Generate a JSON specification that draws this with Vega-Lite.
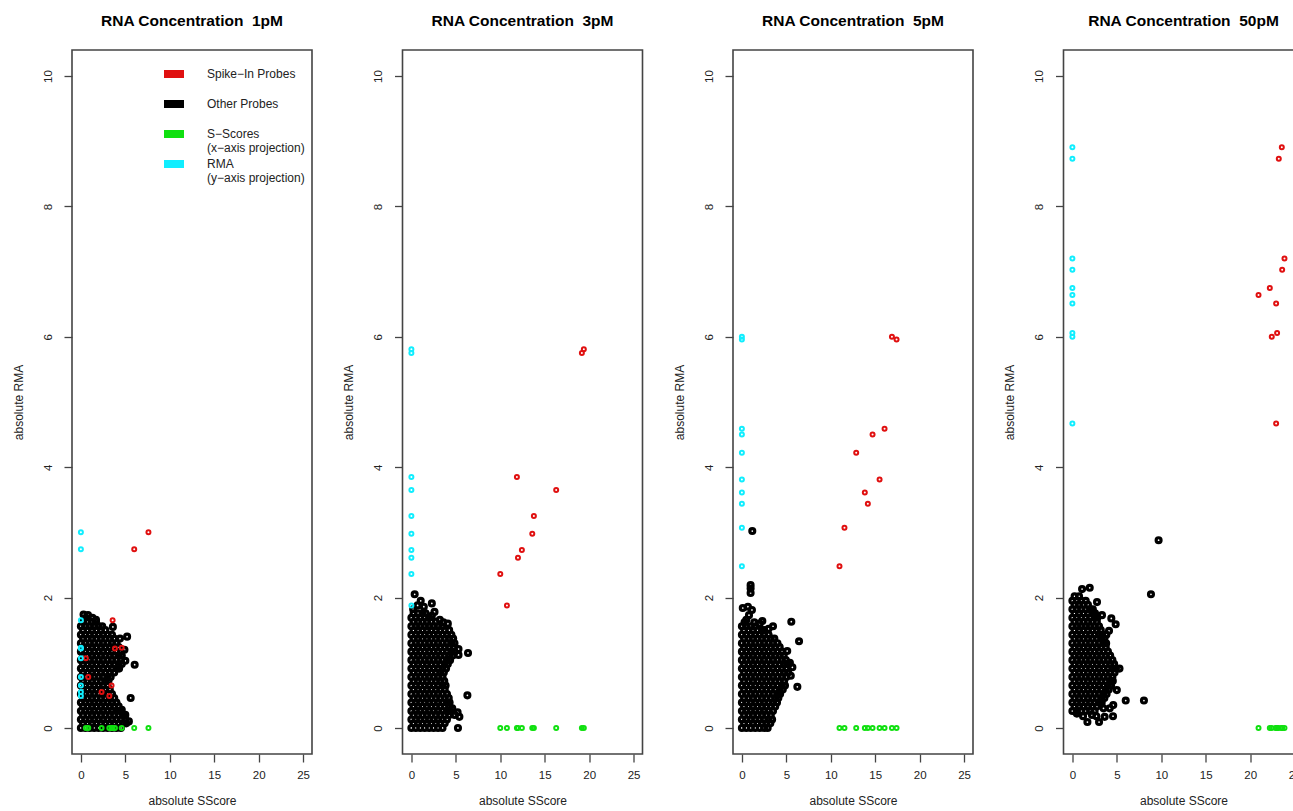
{
"$schema": "https://vega.github.io/schema/vega-lite/v6.json",
"background": "white",
"padding": {"left": 11, "top": 12, "right": 0, "bottom": 0},
"bounds": "flush",
"spacing": 90.5,
"datasets": {
"o1": [
{"x":0,"y":0},{"x":0.5,"y":0},{"x":1,"y":0},{"x":1.5,"y":0},{"x":2,"y":0},{"x":2.5,"y":0},{"x":3,"y":0},{"x":3.5,"y":0},{"x":4,"y":0},{"x":4.5,"y":0},
{"x":0.25,"y":0.07},{"x":0.75,"y":0.07},{"x":1.25,"y":0.07},{"x":1.75,"y":0.07},{"x":2.25,"y":0.07},{"x":2.75,"y":0.07},{"x":3.25,"y":0.07},{"x":3.75,"y":0.07},{"x":4.25,"y":0.07},{"x":4.75,"y":0.07},{"x":5.1,"y":0.07},
{"x":0,"y":0.13},{"x":0.5,"y":0.13},{"x":1,"y":0.13},{"x":1.5,"y":0.13},{"x":2,"y":0.13},{"x":2.5,"y":0.13},{"x":3,"y":0.13},{"x":3.5,"y":0.13},{"x":4,"y":0.13},{"x":4.5,"y":0.13},{"x":5,"y":0.13},
{"x":0.25,"y":0.2},{"x":0.75,"y":0.2},{"x":1.25,"y":0.2},{"x":1.75,"y":0.2},{"x":2.25,"y":0.2},{"x":2.75,"y":0.2},{"x":3.25,"y":0.2},{"x":3.75,"y":0.2},{"x":4.25,"y":0.2},{"x":4.75,"y":0.2},
{"x":0,"y":0.26},{"x":0.5,"y":0.26},{"x":1,"y":0.26},{"x":1.5,"y":0.26},{"x":2,"y":0.26},{"x":2.5,"y":0.26},{"x":3,"y":0.26},{"x":3.5,"y":0.26},{"x":4,"y":0.26},{"x":4.4,"y":0.26},
{"x":0.25,"y":0.33},{"x":0.75,"y":0.33},{"x":1.25,"y":0.33},{"x":1.75,"y":0.33},{"x":2.25,"y":0.33},{"x":2.75,"y":0.33},{"x":3.25,"y":0.33},{"x":3.75,"y":0.33},{"x":4.25,"y":0.33},
{"x":0,"y":0.39},{"x":0.5,"y":0.39},{"x":1,"y":0.39},{"x":1.5,"y":0.39},{"x":2,"y":0.39},{"x":2.5,"y":0.39},{"x":3,"y":0.39},{"x":3.5,"y":0.39},{"x":4,"y":0.39},
{"x":0.25,"y":0.46},{"x":0.75,"y":0.46},{"x":1.25,"y":0.46},{"x":1.75,"y":0.46},{"x":2.25,"y":0.46},{"x":2.75,"y":0.46},{"x":3.25,"y":0.46},{"x":3.75,"y":0.46},
{"x":0,"y":0.52},{"x":0.5,"y":0.52},{"x":1,"y":0.52},{"x":1.5,"y":0.52},{"x":2,"y":0.52},{"x":2.5,"y":0.52},{"x":3,"y":0.52},{"x":3.5,"y":0.52},
{"x":0.25,"y":0.59},{"x":0.75,"y":0.59},{"x":1.25,"y":0.59},{"x":1.75,"y":0.59},{"x":2.25,"y":0.59},{"x":2.75,"y":0.59},{"x":3.25,"y":0.59},
{"x":0,"y":0.65},{"x":0.5,"y":0.65},{"x":1,"y":0.65},{"x":1.5,"y":0.65},{"x":2,"y":0.65},{"x":2.5,"y":0.65},{"x":3,"y":0.65},
{"x":0.25,"y":0.72},{"x":0.75,"y":0.72},{"x":1.25,"y":0.72},{"x":1.75,"y":0.72},{"x":2.25,"y":0.72},{"x":2.75,"y":0.72},{"x":3.1,"y":0.72},
{"x":0,"y":0.78},{"x":0.5,"y":0.78},{"x":1,"y":0.78},{"x":1.5,"y":0.78},{"x":2,"y":0.78},{"x":2.5,"y":0.78},{"x":3,"y":0.78},{"x":3.35,"y":0.78},
{"x":0.25,"y":0.85},{"x":0.75,"y":0.85},{"x":1.25,"y":0.85},{"x":1.75,"y":0.85},{"x":2.25,"y":0.85},{"x":2.75,"y":0.85},{"x":3.25,"y":0.85},{"x":3.75,"y":0.85},
{"x":0,"y":0.91},{"x":0.5,"y":0.91},{"x":1,"y":0.91},{"x":1.5,"y":0.91},{"x":2,"y":0.91},{"x":2.5,"y":0.91},{"x":3,"y":0.91},{"x":3.5,"y":0.91},{"x":4,"y":0.91},{"x":4.3,"y":0.91},
{"x":0.25,"y":0.98},{"x":0.75,"y":0.98},{"x":1.25,"y":0.98},{"x":1.75,"y":0.98},{"x":2.25,"y":0.98},{"x":2.75,"y":0.98},{"x":3.25,"y":0.98},{"x":3.75,"y":0.98},{"x":4.25,"y":0.98},{"x":4.6,"y":0.98},
{"x":0,"y":1.04},{"x":0.5,"y":1.04},{"x":1,"y":1.04},{"x":1.5,"y":1.04},{"x":2,"y":1.04},{"x":2.5,"y":1.04},{"x":3,"y":1.04},{"x":3.5,"y":1.04},{"x":4,"y":1.04},{"x":4.5,"y":1.04},
{"x":0.25,"y":1.11},{"x":0.75,"y":1.11},{"x":1.25,"y":1.11},{"x":1.75,"y":1.11},{"x":2.25,"y":1.11},{"x":2.75,"y":1.11},{"x":3.25,"y":1.11},{"x":3.75,"y":1.11},{"x":4.25,"y":1.11},{"x":4.6,"y":1.11},
{"x":0,"y":1.17},{"x":0.5,"y":1.17},{"x":1,"y":1.17},{"x":1.5,"y":1.17},{"x":2,"y":1.17},{"x":2.5,"y":1.17},{"x":3,"y":1.17},{"x":3.5,"y":1.17},{"x":4,"y":1.17},{"x":4.5,"y":1.17},
{"x":0.25,"y":1.24},{"x":0.75,"y":1.24},{"x":1.25,"y":1.24},{"x":1.75,"y":1.24},{"x":2.25,"y":1.24},{"x":2.75,"y":1.24},{"x":3.25,"y":1.24},{"x":3.75,"y":1.24},{"x":4.25,"y":1.24},
{"x":0,"y":1.3},{"x":0.5,"y":1.3},{"x":1,"y":1.3},{"x":1.5,"y":1.3},{"x":2,"y":1.3},{"x":2.5,"y":1.3},{"x":3,"y":1.3},{"x":3.5,"y":1.3},{"x":4,"y":1.3},
{"x":0.25,"y":1.37},{"x":0.75,"y":1.37},{"x":1.25,"y":1.37},{"x":1.75,"y":1.37},{"x":2.25,"y":1.37},{"x":2.75,"y":1.37},{"x":3.25,"y":1.37},{"x":3.75,"y":1.37},
{"x":0,"y":1.43},{"x":0.5,"y":1.43},{"x":1,"y":1.43},{"x":1.5,"y":1.43},{"x":2,"y":1.43},{"x":2.5,"y":1.43},{"x":3,"y":1.43},{"x":3.5,"y":1.43},
{"x":0.25,"y":1.5},{"x":0.75,"y":1.5},{"x":1.25,"y":1.5},{"x":1.75,"y":1.5},{"x":2.25,"y":1.5},{"x":2.75,"y":1.5},
{"x":0,"y":1.56},{"x":0.5,"y":1.56},{"x":1,"y":1.56},{"x":1.5,"y":1.56},{"x":2,"y":1.56},{"x":2.4,"y":1.56},
{"x":0.25,"y":1.63},{"x":0.75,"y":1.63},{"x":1.25,"y":1.63},{"x":1.7,"y":1.63},
{"x":0.3,"y":1.74},{"x":0.8,"y":1.73},{"x":1.3,"y":1.69},{"x":1.7,"y":1.66},{"x":0.55,"y":1.69},{"x":5.2,"y":1.4},{"x":6.05,"y":0.97},{"x":5.6,"y":0.46},{"x":5.0,"y":1.03},{"x":4.9,"y":1.2},{"x":5.0,"y":0.2},{"x":5.4,"y":0.1},{"x":4.4,"y":1.37},{"x":4.6,"y":0.28},{"x":3.6,"y":1.55}
],
"o2": [
{"x":0,"y":0},{"x":0.5,"y":0},{"x":1,"y":0},{"x":1.5,"y":0},{"x":2,"y":0},{"x":2.5,"y":0},{"x":3,"y":0},{"x":3.5,"y":0},
{"x":0.25,"y":0.07},{"x":0.75,"y":0.07},{"x":1.25,"y":0.07},{"x":1.75,"y":0.07},{"x":2.25,"y":0.07},{"x":2.75,"y":0.07},{"x":3.25,"y":0.07},{"x":3.75,"y":0.07},
{"x":0,"y":0.13},{"x":0.5,"y":0.13},{"x":1,"y":0.13},{"x":1.5,"y":0.13},{"x":2,"y":0.13},{"x":2.5,"y":0.13},{"x":3,"y":0.13},{"x":3.5,"y":0.13},{"x":4,"y":0.13},
{"x":0.25,"y":0.2},{"x":0.75,"y":0.2},{"x":1.25,"y":0.2},{"x":1.75,"y":0.2},{"x":2.25,"y":0.2},{"x":2.75,"y":0.2},{"x":3.25,"y":0.2},{"x":3.75,"y":0.2},{"x":4.25,"y":0.2},
{"x":0,"y":0.26},{"x":0.5,"y":0.26},{"x":1,"y":0.26},{"x":1.5,"y":0.26},{"x":2,"y":0.26},{"x":2.5,"y":0.26},{"x":3,"y":0.26},{"x":3.5,"y":0.26},{"x":4,"y":0.26},{"x":4.3,"y":0.26},
{"x":0.25,"y":0.33},{"x":0.75,"y":0.33},{"x":1.25,"y":0.33},{"x":1.75,"y":0.33},{"x":2.25,"y":0.33},{"x":2.75,"y":0.33},{"x":3.25,"y":0.33},{"x":3.75,"y":0.33},{"x":4.25,"y":0.33},
{"x":0,"y":0.39},{"x":0.5,"y":0.39},{"x":1,"y":0.39},{"x":1.5,"y":0.39},{"x":2,"y":0.39},{"x":2.5,"y":0.39},{"x":3,"y":0.39},{"x":3.5,"y":0.39},{"x":4,"y":0.39},{"x":4.3,"y":0.39},
{"x":0.25,"y":0.46},{"x":0.75,"y":0.46},{"x":1.25,"y":0.46},{"x":1.75,"y":0.46},{"x":2.25,"y":0.46},{"x":2.75,"y":0.46},{"x":3.25,"y":0.46},{"x":3.75,"y":0.46},{"x":4.2,"y":0.46},
{"x":0,"y":0.52},{"x":0.5,"y":0.52},{"x":1,"y":0.52},{"x":1.5,"y":0.52},{"x":2,"y":0.52},{"x":2.5,"y":0.52},{"x":3,"y":0.52},{"x":3.5,"y":0.52},{"x":4,"y":0.52},
{"x":0.25,"y":0.59},{"x":0.75,"y":0.59},{"x":1.25,"y":0.59},{"x":1.75,"y":0.59},{"x":2.25,"y":0.59},{"x":2.75,"y":0.59},{"x":3.25,"y":0.59},{"x":3.75,"y":0.59},
{"x":0,"y":0.65},{"x":0.5,"y":0.65},{"x":1,"y":0.65},{"x":1.5,"y":0.65},{"x":2,"y":0.65},{"x":2.5,"y":0.65},{"x":3,"y":0.65},{"x":3.5,"y":0.65},{"x":3.85,"y":0.65},
{"x":0.25,"y":0.72},{"x":0.75,"y":0.72},{"x":1.25,"y":0.72},{"x":1.75,"y":0.72},{"x":2.25,"y":0.72},{"x":2.75,"y":0.72},{"x":3.25,"y":0.72},{"x":3.7,"y":0.72},
{"x":0,"y":0.78},{"x":0.5,"y":0.78},{"x":1,"y":0.78},{"x":1.5,"y":0.78},{"x":2,"y":0.78},{"x":2.5,"y":0.78},{"x":3,"y":0.78},{"x":3.5,"y":0.78},
{"x":0.25,"y":0.85},{"x":0.75,"y":0.85},{"x":1.25,"y":0.85},{"x":1.75,"y":0.85},{"x":2.25,"y":0.85},{"x":2.75,"y":0.85},{"x":3.25,"y":0.85},{"x":3.65,"y":0.85},
{"x":0,"y":0.91},{"x":0.5,"y":0.91},{"x":1,"y":0.91},{"x":1.5,"y":0.91},{"x":2,"y":0.91},{"x":2.5,"y":0.91},{"x":3,"y":0.91},{"x":3.5,"y":0.91},{"x":3.9,"y":0.91},
{"x":0.25,"y":0.98},{"x":0.75,"y":0.98},{"x":1.25,"y":0.98},{"x":1.75,"y":0.98},{"x":2.25,"y":0.98},{"x":2.75,"y":0.98},{"x":3.25,"y":0.98},{"x":3.75,"y":0.98},{"x":4.1,"y":0.98},
{"x":0,"y":1.04},{"x":0.5,"y":1.04},{"x":1,"y":1.04},{"x":1.5,"y":1.04},{"x":2,"y":1.04},{"x":2.5,"y":1.04},{"x":3,"y":1.04},{"x":3.5,"y":1.04},{"x":4,"y":1.04},{"x":4.35,"y":1.04},
{"x":0.25,"y":1.11},{"x":0.75,"y":1.11},{"x":1.25,"y":1.11},{"x":1.75,"y":1.11},{"x":2.25,"y":1.11},{"x":2.75,"y":1.11},{"x":3.25,"y":1.11},{"x":3.75,"y":1.11},{"x":4.25,"y":1.11},{"x":4.65,"y":1.11},
{"x":0,"y":1.17},{"x":0.5,"y":1.17},{"x":1,"y":1.17},{"x":1.5,"y":1.17},{"x":2,"y":1.17},{"x":2.5,"y":1.17},{"x":3,"y":1.17},{"x":3.5,"y":1.17},{"x":4,"y":1.17},{"x":4.5,"y":1.17},{"x":4.85,"y":1.17},
{"x":0.25,"y":1.24},{"x":0.75,"y":1.24},{"x":1.25,"y":1.24},{"x":1.75,"y":1.24},{"x":2.25,"y":1.24},{"x":2.75,"y":1.24},{"x":3.25,"y":1.24},{"x":3.75,"y":1.24},{"x":4.25,"y":1.24},{"x":4.75,"y":1.24},
{"x":0,"y":1.3},{"x":0.5,"y":1.3},{"x":1,"y":1.3},{"x":1.5,"y":1.3},{"x":2,"y":1.3},{"x":2.5,"y":1.3},{"x":3,"y":1.3},{"x":3.5,"y":1.3},{"x":4,"y":1.3},{"x":4.5,"y":1.3},{"x":4.85,"y":1.3},
{"x":0.25,"y":1.37},{"x":0.75,"y":1.37},{"x":1.25,"y":1.37},{"x":1.75,"y":1.37},{"x":2.25,"y":1.37},{"x":2.75,"y":1.37},{"x":3.25,"y":1.37},{"x":3.75,"y":1.37},{"x":4.25,"y":1.37},{"x":4.7,"y":1.37},
{"x":0,"y":1.43},{"x":0.5,"y":1.43},{"x":1,"y":1.43},{"x":1.5,"y":1.43},{"x":2,"y":1.43},{"x":2.5,"y":1.43},{"x":3,"y":1.43},{"x":3.5,"y":1.43},{"x":4,"y":1.43},{"x":4.5,"y":1.43},
{"x":0.25,"y":1.5},{"x":0.75,"y":1.5},{"x":1.25,"y":1.5},{"x":1.75,"y":1.5},{"x":2.25,"y":1.5},{"x":2.75,"y":1.5},{"x":3.25,"y":1.5},{"x":3.75,"y":1.5},{"x":4.25,"y":1.5},
{"x":0,"y":1.56},{"x":0.5,"y":1.56},{"x":1,"y":1.56},{"x":1.5,"y":1.56},{"x":2,"y":1.56},{"x":2.5,"y":1.56},{"x":3,"y":1.56},{"x":3.5,"y":1.56},
{"x":0.25,"y":1.63},{"x":0.75,"y":1.63},{"x":1.25,"y":1.63},{"x":1.75,"y":1.63},{"x":2.25,"y":1.63},{"x":2.75,"y":1.63},
{"x":0,"y":1.69},{"x":0.5,"y":1.69},{"x":1,"y":1.69},{"x":1.5,"y":1.69},{"x":2,"y":1.69},
{"x":0.25,"y":1.76},{"x":0.75,"y":1.76},{"x":1.25,"y":1.76},{"x":1.6,"y":1.76},
{"x":0.37,"y":2.05},{"x":1.05,"y":1.95},{"x":2.3,"y":1.91},{"x":1.4,"y":1.86},{"x":0.7,"y":1.88},{"x":2.6,"y":1.78},{"x":0.2,"y":1.82},{"x":5.24,"y":0},{"x":4.87,"y":0.2},{"x":5.4,"y":0.17},{"x":5.2,"y":0.24},{"x":5.3,"y":1.12},{"x":6.37,"y":1.15},{"x":5.3,"y":1.21},{"x":6.3,"y":0.5},{"x":4.1,"y":1.6},{"x":3.6,"y":1.62},{"x":3.2,"y":1.66},{"x":2.3,"y":1.72},{"x":4.6,"y":0.3}
],
"o3": [
{"x":0,"y":0},{"x":0.5,"y":0},{"x":1,"y":0},{"x":1.5,"y":0},{"x":2,"y":0},{"x":2.5,"y":0},{"x":2.9,"y":0},
{"x":0.25,"y":0.07},{"x":0.75,"y":0.07},{"x":1.25,"y":0.07},{"x":1.75,"y":0.07},{"x":2.25,"y":0.07},{"x":2.75,"y":0.07},{"x":3.2,"y":0.07},
{"x":0,"y":0.13},{"x":0.5,"y":0.13},{"x":1,"y":0.13},{"x":1.5,"y":0.13},{"x":2,"y":0.13},{"x":2.5,"y":0.13},{"x":3,"y":0.13},{"x":3.4,"y":0.13},
{"x":0.25,"y":0.2},{"x":0.75,"y":0.2},{"x":1.25,"y":0.2},{"x":1.75,"y":0.2},{"x":2.25,"y":0.2},{"x":2.75,"y":0.2},{"x":3.25,"y":0.2},
{"x":0,"y":0.26},{"x":0.5,"y":0.26},{"x":1,"y":0.26},{"x":1.5,"y":0.26},{"x":2,"y":0.26},{"x":2.5,"y":0.26},{"x":3,"y":0.26},{"x":3.5,"y":0.26},
{"x":0.25,"y":0.33},{"x":0.75,"y":0.33},{"x":1.25,"y":0.33},{"x":1.75,"y":0.33},{"x":2.25,"y":0.33},{"x":2.75,"y":0.33},{"x":3.25,"y":0.33},{"x":3.75,"y":0.33},
{"x":0,"y":0.39},{"x":0.5,"y":0.39},{"x":1,"y":0.39},{"x":1.5,"y":0.39},{"x":2,"y":0.39},{"x":2.5,"y":0.39},{"x":3,"y":0.39},{"x":3.5,"y":0.39},{"x":3.95,"y":0.39},
{"x":0.25,"y":0.46},{"x":0.75,"y":0.46},{"x":1.25,"y":0.46},{"x":1.75,"y":0.46},{"x":2.25,"y":0.46},{"x":2.75,"y":0.46},{"x":3.25,"y":0.46},{"x":3.75,"y":0.46},{"x":4.1,"y":0.46},
{"x":0,"y":0.52},{"x":0.5,"y":0.52},{"x":1,"y":0.52},{"x":1.5,"y":0.52},{"x":2,"y":0.52},{"x":2.5,"y":0.52},{"x":3,"y":0.52},{"x":3.5,"y":0.52},{"x":4,"y":0.52},{"x":4.3,"y":0.52},
{"x":0.25,"y":0.59},{"x":0.75,"y":0.59},{"x":1.25,"y":0.59},{"x":1.75,"y":0.59},{"x":2.25,"y":0.59},{"x":2.75,"y":0.59},{"x":3.25,"y":0.59},{"x":3.75,"y":0.59},{"x":4.25,"y":0.59},{"x":4.6,"y":0.59},
{"x":0,"y":0.65},{"x":0.5,"y":0.65},{"x":1,"y":0.65},{"x":1.5,"y":0.65},{"x":2,"y":0.65},{"x":2.5,"y":0.65},{"x":3,"y":0.65},{"x":3.5,"y":0.65},{"x":4,"y":0.65},{"x":4.5,"y":0.65},{"x":4.85,"y":0.65},
{"x":0.25,"y":0.72},{"x":0.75,"y":0.72},{"x":1.25,"y":0.72},{"x":1.75,"y":0.72},{"x":2.25,"y":0.72},{"x":2.75,"y":0.72},{"x":3.25,"y":0.72},{"x":3.75,"y":0.72},{"x":4.25,"y":0.72},{"x":4.75,"y":0.72},
{"x":0,"y":0.78},{"x":0.5,"y":0.78},{"x":1,"y":0.78},{"x":1.5,"y":0.78},{"x":2,"y":0.78},{"x":2.5,"y":0.78},{"x":3,"y":0.78},{"x":3.5,"y":0.78},{"x":4,"y":0.78},{"x":4.5,"y":0.78},{"x":5,"y":0.78},
{"x":0.25,"y":0.85},{"x":0.75,"y":0.85},{"x":1.25,"y":0.85},{"x":1.75,"y":0.85},{"x":2.25,"y":0.85},{"x":2.75,"y":0.85},{"x":3.25,"y":0.85},{"x":3.75,"y":0.85},{"x":4.25,"y":0.85},{"x":4.75,"y":0.85},{"x":5.2,"y":0.85},
{"x":0,"y":0.91},{"x":0.5,"y":0.91},{"x":1,"y":0.91},{"x":1.5,"y":0.91},{"x":2,"y":0.91},{"x":2.5,"y":0.91},{"x":3,"y":0.91},{"x":3.5,"y":0.91},{"x":4,"y":0.91},{"x":4.5,"y":0.91},{"x":5,"y":0.91},
{"x":0.25,"y":0.98},{"x":0.75,"y":0.98},{"x":1.25,"y":0.98},{"x":1.75,"y":0.98},{"x":2.25,"y":0.98},{"x":2.75,"y":0.98},{"x":3.25,"y":0.98},{"x":3.75,"y":0.98},{"x":4.25,"y":0.98},{"x":4.75,"y":0.98},{"x":5.1,"y":0.98},
{"x":0,"y":1.04},{"x":0.5,"y":1.04},{"x":1,"y":1.04},{"x":1.5,"y":1.04},{"x":2,"y":1.04},{"x":2.5,"y":1.04},{"x":3,"y":1.04},{"x":3.5,"y":1.04},{"x":4,"y":1.04},{"x":4.5,"y":1.04},{"x":4.95,"y":1.04},
{"x":0.25,"y":1.11},{"x":0.75,"y":1.11},{"x":1.25,"y":1.11},{"x":1.75,"y":1.11},{"x":2.25,"y":1.11},{"x":2.75,"y":1.11},{"x":3.25,"y":1.11},{"x":3.75,"y":1.11},{"x":4.25,"y":1.11},{"x":4.7,"y":1.11},
{"x":0,"y":1.17},{"x":0.5,"y":1.17},{"x":1,"y":1.17},{"x":1.5,"y":1.17},{"x":2,"y":1.17},{"x":2.5,"y":1.17},{"x":3,"y":1.17},{"x":3.5,"y":1.17},{"x":4,"y":1.17},{"x":4.5,"y":1.17},
{"x":0.25,"y":1.24},{"x":0.75,"y":1.24},{"x":1.25,"y":1.24},{"x":1.75,"y":1.24},{"x":2.25,"y":1.24},{"x":2.75,"y":1.24},{"x":3.25,"y":1.24},{"x":3.75,"y":1.24},{"x":4.25,"y":1.24},
{"x":0,"y":1.3},{"x":0.5,"y":1.3},{"x":1,"y":1.3},{"x":1.5,"y":1.3},{"x":2,"y":1.3},{"x":2.5,"y":1.3},{"x":3,"y":1.3},{"x":3.5,"y":1.3},{"x":4,"y":1.3},
{"x":0.25,"y":1.37},{"x":0.75,"y":1.37},{"x":1.25,"y":1.37},{"x":1.75,"y":1.37},{"x":2.25,"y":1.37},{"x":2.75,"y":1.37},{"x":3.25,"y":1.37},{"x":3.65,"y":1.37},
{"x":0,"y":1.43},{"x":0.5,"y":1.43},{"x":1,"y":1.43},{"x":1.5,"y":1.43},{"x":2,"y":1.43},{"x":2.5,"y":1.43},{"x":3,"y":1.43},
{"x":0.25,"y":1.5},{"x":0.75,"y":1.5},{"x":1.25,"y":1.5},{"x":1.75,"y":1.5},{"x":2.25,"y":1.5},{"x":2.5,"y":1.5},
{"x":0,"y":1.56},{"x":0.5,"y":1.56},{"x":1,"y":1.56},{"x":1.5,"y":1.56},
{"x":1.17,"y":3.02},{"x":0.98,"y":2.19},{"x":0.98,"y":2.14},{"x":0.98,"y":2.07},{"x":0.1,"y":1.84},{"x":0.68,"y":1.86},{"x":1.13,"y":1.81},{"x":0.5,"y":1.66},{"x":0.3,"y":1.62},{"x":2.3,"y":1.64},{"x":3.5,"y":1.56},{"x":5.56,"y":1.63},{"x":6.43,"y":1.33},{"x":5.1,"y":1.18},{"x":5.68,"y":0.93},{"x":6.24,"y":0.63},{"x":2.0,"y":1.6},{"x":0.8,"y":1.73},{"x":1.4,"y":1.62},{"x":3.0,"y":1.52},{"x":5.4,"y":1.0},{"x":5.5,"y":0.8}
],
"o4": [
{"x":0,"y":0.26},{"x":0.5,"y":0.26},{"x":1,"y":0.26},{"x":1.5,"y":0.26},{"x":2,"y":0.26},{"x":2.5,"y":0.26},
{"x":0.25,"y":0.33},{"x":0.75,"y":0.33},{"x":1.25,"y":0.33},{"x":1.75,"y":0.33},{"x":2.25,"y":0.33},{"x":2.75,"y":0.33},
{"x":0,"y":0.39},{"x":0.5,"y":0.39},{"x":1,"y":0.39},{"x":1.5,"y":0.39},{"x":2,"y":0.39},{"x":2.5,"y":0.39},{"x":3,"y":0.39},{"x":3.3,"y":0.39},
{"x":0.25,"y":0.46},{"x":0.75,"y":0.46},{"x":1.25,"y":0.46},{"x":1.75,"y":0.46},{"x":2.25,"y":0.46},{"x":2.75,"y":0.46},{"x":3.25,"y":0.46},{"x":3.6,"y":0.46},
{"x":0,"y":0.52},{"x":0.5,"y":0.52},{"x":1,"y":0.52},{"x":1.5,"y":0.52},{"x":2,"y":0.52},{"x":2.5,"y":0.52},{"x":3,"y":0.52},{"x":3.5,"y":0.52},{"x":3.85,"y":0.52},
{"x":0.25,"y":0.59},{"x":0.75,"y":0.59},{"x":1.25,"y":0.59},{"x":1.75,"y":0.59},{"x":2.25,"y":0.59},{"x":2.75,"y":0.59},{"x":3.25,"y":0.59},{"x":3.75,"y":0.59},{"x":4.1,"y":0.59},
{"x":0,"y":0.65},{"x":0.5,"y":0.65},{"x":1,"y":0.65},{"x":1.5,"y":0.65},{"x":2,"y":0.65},{"x":2.5,"y":0.65},{"x":3,"y":0.65},{"x":3.5,"y":0.65},{"x":4,"y":0.65},{"x":4.35,"y":0.65},
{"x":0.25,"y":0.72},{"x":0.75,"y":0.72},{"x":1.25,"y":0.72},{"x":1.75,"y":0.72},{"x":2.25,"y":0.72},{"x":2.75,"y":0.72},{"x":3.25,"y":0.72},{"x":3.75,"y":0.72},{"x":4.25,"y":0.72},{"x":4.55,"y":0.72},
{"x":0,"y":0.78},{"x":0.5,"y":0.78},{"x":1,"y":0.78},{"x":1.5,"y":0.78},{"x":2,"y":0.78},{"x":2.5,"y":0.78},{"x":3,"y":0.78},{"x":3.5,"y":0.78},{"x":4,"y":0.78},{"x":4.5,"y":0.78},
{"x":0.25,"y":0.85},{"x":0.75,"y":0.85},{"x":1.25,"y":0.85},{"x":1.75,"y":0.85},{"x":2.25,"y":0.85},{"x":2.75,"y":0.85},{"x":3.25,"y":0.85},{"x":3.75,"y":0.85},{"x":4.25,"y":0.85},{"x":4.75,"y":0.85},
{"x":0,"y":0.91},{"x":0.5,"y":0.91},{"x":1,"y":0.91},{"x":1.5,"y":0.91},{"x":2,"y":0.91},{"x":2.5,"y":0.91},{"x":3,"y":0.91},{"x":3.5,"y":0.91},{"x":4,"y":0.91},{"x":4.5,"y":0.91},{"x":4.9,"y":0.91},
{"x":0.25,"y":0.98},{"x":0.75,"y":0.98},{"x":1.25,"y":0.98},{"x":1.75,"y":0.98},{"x":2.25,"y":0.98},{"x":2.75,"y":0.98},{"x":3.25,"y":0.98},{"x":3.75,"y":0.98},{"x":4.25,"y":0.98},{"x":4.7,"y":0.98},
{"x":0,"y":1.04},{"x":0.5,"y":1.04},{"x":1,"y":1.04},{"x":1.5,"y":1.04},{"x":2,"y":1.04},{"x":2.5,"y":1.04},{"x":3,"y":1.04},{"x":3.5,"y":1.04},{"x":4,"y":1.04},{"x":4.5,"y":1.04},
{"x":0.25,"y":1.11},{"x":0.75,"y":1.11},{"x":1.25,"y":1.11},{"x":1.75,"y":1.11},{"x":2.25,"y":1.11},{"x":2.75,"y":1.11},{"x":3.25,"y":1.11},{"x":3.75,"y":1.11},{"x":4.25,"y":1.11},
{"x":0,"y":1.17},{"x":0.5,"y":1.17},{"x":1,"y":1.17},{"x":1.5,"y":1.17},{"x":2,"y":1.17},{"x":2.5,"y":1.17},{"x":3,"y":1.17},{"x":3.5,"y":1.17},{"x":4,"y":1.17},
{"x":0.25,"y":1.24},{"x":0.75,"y":1.24},{"x":1.25,"y":1.24},{"x":1.75,"y":1.24},{"x":2.25,"y":1.24},{"x":2.75,"y":1.24},{"x":3.25,"y":1.24},{"x":3.75,"y":1.24},
{"x":0,"y":1.3},{"x":0.5,"y":1.3},{"x":1,"y":1.3},{"x":1.5,"y":1.3},{"x":2,"y":1.3},{"x":2.5,"y":1.3},{"x":3,"y":1.3},{"x":3.5,"y":1.3},{"x":3.8,"y":1.3},
{"x":0.25,"y":1.37},{"x":0.75,"y":1.37},{"x":1.25,"y":1.37},{"x":1.75,"y":1.37},{"x":2.25,"y":1.37},{"x":2.75,"y":1.37},{"x":3.25,"y":1.37},{"x":3.6,"y":1.37},
{"x":0,"y":1.43},{"x":0.5,"y":1.43},{"x":1,"y":1.43},{"x":1.5,"y":1.43},{"x":2,"y":1.43},{"x":2.5,"y":1.43},{"x":3,"y":1.43},{"x":3.35,"y":1.43},
{"x":0.25,"y":1.5},{"x":0.75,"y":1.5},{"x":1.25,"y":1.5},{"x":1.75,"y":1.5},{"x":2.25,"y":1.5},{"x":2.75,"y":1.5},{"x":3.2,"y":1.5},
{"x":0,"y":1.56},{"x":0.5,"y":1.56},{"x":1,"y":1.56},{"x":1.5,"y":1.56},{"x":2,"y":1.56},{"x":2.5,"y":1.56},{"x":3,"y":1.56},
{"x":0.25,"y":1.63},{"x":0.75,"y":1.63},{"x":1.25,"y":1.63},{"x":1.75,"y":1.63},{"x":2.25,"y":1.63},{"x":2.75,"y":1.63},
{"x":0,"y":1.69},{"x":0.5,"y":1.69},{"x":1,"y":1.69},{"x":1.5,"y":1.69},{"x":2,"y":1.69},{"x":2.5,"y":1.69},{"x":2.8,"y":1.69},
{"x":0.25,"y":1.76},{"x":0.75,"y":1.76},{"x":1.25,"y":1.76},{"x":1.75,"y":1.76},{"x":2.25,"y":1.76},{"x":2.55,"y":1.76},
{"x":0,"y":1.82},{"x":0.5,"y":1.82},{"x":1,"y":1.82},{"x":1.5,"y":1.82},{"x":2,"y":1.82},{"x":2.3,"y":1.82},
{"x":0.25,"y":1.89},{"x":0.75,"y":1.89},{"x":1.25,"y":1.89},{"x":1.75,"y":1.89},
{"x":0,"y":1.95},{"x":0.5,"y":1.95},{"x":1,"y":1.95},{"x":1.5,"y":1.95},
{"x":0.25,"y":2.02},{"x":0.75,"y":2.02},
{"x":9.7,"y":2.88},{"x":8.84,"y":2.05},{"x":8.05,"y":0.42},{"x":6.0,"y":0.42},{"x":1.69,"y":0.09},{"x":3.0,"y":0.09},{"x":2.7,"y":0.18},{"x":3.63,"y":0.17},{"x":4.57,"y":0.18},{"x":1.09,"y":2.13},{"x":1.95,"y":2.15},{"x":2.77,"y":1.93},{"x":3.33,"y":1.73},{"x":4.38,"y":1.68},{"x":4.87,"y":1.59},{"x":4.12,"y":1.49},{"x":3.82,"y":1.43},{"x":5.3,"y":0.91},{"x":5.0,"y":0.58},{"x":4.6,"y":0.35},{"x":2.2,"y":0.2},{"x":1.2,"y":0.18},{"x":0.5,"y":0.22},{"x":3.5,"y":0.3},{"x":4.2,"y":0.3}
],
"s1": [
{"g":"s","x":7.6,"y":3.0},{"g":"s","x":6.0,"y":2.74},{"g":"s","x":3.57,"y":1.65},{"g":"s","x":3.83,"y":1.22},{"g":"s","x":4.59,"y":1.23},{"g":"s","x":0.56,"y":1.07},{"g":"s","x":0.83,"y":0.78},{"g":"s","x":3.45,"y":0.65},{"g":"s","x":2.33,"y":0.55},{"g":"s","x":3.2,"y":0.49},
{"g":"x","x":7.6,"y":0},{"g":"x","x":6.0,"y":0},{"g":"x","x":3.57,"y":0},{"g":"x","x":3.83,"y":0},{"g":"x","x":4.59,"y":0},{"g":"x","x":0.56,"y":0},{"g":"x","x":0.83,"y":0},{"g":"x","x":3.45,"y":0},{"g":"x","x":2.33,"y":0},{"g":"x","x":3.2,"y":0},
{"g":"r","x":0,"y":3.0},{"g":"r","x":0,"y":2.74},{"g":"r","x":0,"y":1.65},{"g":"r","x":0,"y":1.22},{"g":"r","x":0,"y":1.23},{"g":"r","x":0,"y":1.07},{"g":"r","x":0,"y":0.78},{"g":"r","x":0,"y":0.65},{"g":"r","x":0,"y":0.55},{"g":"r","x":0,"y":0.49}
],
"s2": [
{"g":"s","x":19.18,"y":5.75},{"g":"s","x":19.4,"y":5.81},{"g":"s","x":11.87,"y":3.85},{"g":"s","x":16.29,"y":3.65},{"g":"s","x":13.78,"y":3.25},{"g":"s","x":13.6,"y":2.98},{"g":"s","x":12.43,"y":2.73},{"g":"s","x":11.99,"y":2.61},{"g":"s","x":10.0,"y":2.36},{"g":"s","x":10.75,"y":1.88},
{"g":"x","x":19.18,"y":0},{"g":"x","x":19.4,"y":0},{"g":"x","x":11.87,"y":0},{"g":"x","x":16.29,"y":0},{"g":"x","x":13.78,"y":0},{"g":"x","x":13.6,"y":0},{"g":"x","x":12.43,"y":0},{"g":"x","x":11.99,"y":0},{"g":"x","x":10.0,"y":0},{"g":"x","x":10.75,"y":0},
{"g":"r","x":0,"y":5.75},{"g":"r","x":0,"y":5.81},{"g":"r","x":0,"y":3.85},{"g":"r","x":0,"y":3.65},{"g":"r","x":0,"y":3.25},{"g":"r","x":0,"y":2.98},{"g":"r","x":0,"y":2.73},{"g":"r","x":0,"y":2.61},{"g":"r","x":0,"y":2.36},{"g":"r","x":0,"y":1.88}
],
"s3": [
{"g":"s","x":16.88,"y":6.0},{"g":"s","x":17.4,"y":5.96},{"g":"s","x":16.05,"y":4.59},{"g":"s","x":14.7,"y":4.5},{"g":"s","x":12.86,"y":4.22},{"g":"s","x":15.49,"y":3.81},{"g":"s","x":13.83,"y":3.61},{"g":"s","x":14.17,"y":3.44},{"g":"s","x":11.54,"y":3.07},{"g":"s","x":10.98,"y":2.48},
{"g":"x","x":16.88,"y":0},{"g":"x","x":17.4,"y":0},{"g":"x","x":16.05,"y":0},{"g":"x","x":14.7,"y":0},{"g":"x","x":12.86,"y":0},{"g":"x","x":15.49,"y":0},{"g":"x","x":13.83,"y":0},{"g":"x","x":14.17,"y":0},{"g":"x","x":11.54,"y":0},{"g":"x","x":10.98,"y":0},
{"g":"r","x":0,"y":6.0},{"g":"r","x":0,"y":5.96},{"g":"r","x":0,"y":4.59},{"g":"r","x":0,"y":4.5},{"g":"r","x":0,"y":4.22},{"g":"r","x":0,"y":3.81},{"g":"r","x":0,"y":3.61},{"g":"r","x":0,"y":3.44},{"g":"r","x":0,"y":3.07},{"g":"r","x":0,"y":2.48}
],
"s4": [
{"g":"s","x":23.56,"y":8.91},{"g":"s","x":23.22,"y":8.73},{"g":"s","x":23.86,"y":7.2},{"g":"s","x":23.6,"y":7.03},{"g":"s","x":22.21,"y":6.75},{"g":"s","x":20.94,"y":6.64},{"g":"s","x":22.92,"y":6.51},{"g":"s","x":23.03,"y":6.06},{"g":"s","x":22.43,"y":6.0},{"g":"s","x":22.92,"y":4.67},
{"g":"x","x":23.56,"y":0},{"g":"x","x":23.22,"y":0},{"g":"x","x":23.86,"y":0},{"g":"x","x":23.6,"y":0},{"g":"x","x":22.21,"y":0},{"g":"x","x":20.94,"y":0},{"g":"x","x":22.92,"y":0},{"g":"x","x":23.03,"y":0},{"g":"x","x":22.43,"y":0},{"g":"x","x":22.92,"y":0},
{"g":"r","x":0,"y":8.91},{"g":"r","x":0,"y":8.73},{"g":"r","x":0,"y":7.2},{"g":"r","x":0,"y":7.03},{"g":"r","x":0,"y":6.75},{"g":"r","x":0,"y":6.64},{"g":"r","x":0,"y":6.51},{"g":"r","x":0,"y":6.06},{"g":"r","x":0,"y":6.0},{"g":"r","x":0,"y":4.67}
]
},
"hconcat": [
{
"title": "RNA Concentration\u00a0 1pM",
"width": 240, "height": 704,
"encoding": {
"x": {"field": "x", "type": "quantitative", "scale": {"domain": [-1, 26], "nice": false, "zero": false}, "axis": {"values": [0,5,10,15,20,25], "title": "absolute SScore"}},
"y": {"field": "y", "type": "quantitative", "scale": {"domain": [-0.4, 10.4], "nice": false, "zero": false}, "axis": {"values": [0,2,4,6,8,10], "title": "absolute RMA"}}
},
"layer": [
{"data": {"name": "o1"}, "mark": {"type": "point", "size": 24, "strokeWidth": 3.2}, "encoding": {"color": {"datum": "o", "type": "nominal", "title": null, "scale": {"domain": ["s","o","x","r"], "range": ["#e01010","#000000","#10e010","#10eeff"]},
 "legend": {"title": null, "orient": "none", "legendX": 91, "legendY": 14, "symbolType": "M-1,-0.3H1M-1,-0.15H1M-1,0H1M-1,0.15H1M-1,0.3H1", "symbolSize": 400, "clipHeight": 20, "labelOffset": 22, "rowPadding": 0, "gridAlign": "all", "labelFontSize": 12, "labelColor": "#222",
 "labelExpr": "datum.value=='s'?'Spike\u2212In Probes':datum.value=='o'?'Other Probes':datum.value=='x'?['S\u2212Scores','(x\u2212axis projection)']:['RMA','(y\u2212axis projection)']"}}}},
{"data": {"name": "s1"}, "mark": "point", "encoding": {"color": {"field": "g", "type": "nominal", "title": null, "legend": null, "scale": {"domain": ["s","o","x","r"], "range": ["#e01010","#000000","#10e010","#10eeff"]}}}}
]
},
{
"title": "RNA Concentration\u00a0 3pM",
"width": 240, "height": 704,
"encoding": {
"x": {"field": "x", "type": "quantitative", "scale": {"domain": [-1, 26], "nice": false, "zero": false}, "axis": {"values": [0,5,10,15,20,25], "title": "absolute SScore"}},
"y": {"field": "y", "type": "quantitative", "scale": {"domain": [-0.4, 10.4], "nice": false, "zero": false}, "axis": {"values": [0,2,4,6,8,10], "title": "absolute RMA"}}
},
"layer": [
{"data": {"name": "o2"}, "mark": {"type": "point", "size": 24, "strokeWidth": 3.2}, "encoding": {"color": {"datum": "o", "type": "nominal", "title": null, "legend": null, "scale": {"domain": ["s","o","x","r"], "range": ["#e01010","#000000","#10e010","#10eeff"]}}}},
{"data": {"name": "s2"}, "mark": "point", "encoding": {"color": {"field": "g", "type": "nominal", "title": null, "legend": null, "scale": {"domain": ["s","o","x","r"], "range": ["#e01010","#000000","#10e010","#10eeff"]}}}}
]
},
{
"title": "RNA Concentration\u00a0 5pM",
"width": 240, "height": 704,
"encoding": {
"x": {"field": "x", "type": "quantitative", "scale": {"domain": [-1, 26], "nice": false, "zero": false}, "axis": {"values": [0,5,10,15,20,25], "title": "absolute SScore"}},
"y": {"field": "y", "type": "quantitative", "scale": {"domain": [-0.4, 10.4], "nice": false, "zero": false}, "axis": {"values": [0,2,4,6,8,10], "title": "absolute RMA"}}
},
"layer": [
{"data": {"name": "o3"}, "mark": {"type": "point", "size": 24, "strokeWidth": 3.2}, "encoding": {"color": {"datum": "o", "type": "nominal", "title": null, "legend": null, "scale": {"domain": ["s","o","x","r"], "range": ["#e01010","#000000","#10e010","#10eeff"]}}}},
{"data": {"name": "s3"}, "mark": "point", "encoding": {"color": {"field": "g", "type": "nominal", "title": null, "legend": null, "scale": {"domain": ["s","o","x","r"], "range": ["#e01010","#000000","#10e010","#10eeff"]}}}}
]
},
{
"title": "RNA Concentration\u00a0 50pM",
"width": 240, "height": 704,
"encoding": {
"x": {"field": "x", "type": "quantitative", "scale": {"domain": [-1, 26], "nice": false, "zero": false}, "axis": {"values": [0,5,10,15,20,25], "title": "absolute SScore"}},
"y": {"field": "y", "type": "quantitative", "scale": {"domain": [-0.4, 10.4], "nice": false, "zero": false}, "axis": {"values": [0,2,4,6,8,10], "title": "absolute RMA"}}
},
"layer": [
{"data": {"name": "o4"}, "mark": {"type": "point", "size": 24, "strokeWidth": 3.2}, "encoding": {"color": {"datum": "o", "type": "nominal", "title": null, "legend": null, "scale": {"domain": ["s","o","x","r"], "range": ["#e01010","#000000","#10e010","#10eeff"]}}}},
{"data": {"name": "s4"}, "mark": "point", "encoding": {"color": {"field": "g", "type": "nominal", "title": null, "legend": null, "scale": {"domain": ["s","o","x","r"], "range": ["#e01010","#000000","#10e010","#10eeff"]}}}}
]
}
],
"config": {
"font": "Liberation Sans",
"view": {"stroke": "#444", "strokeWidth": 1.6},
"point": {"shape": "circle", "filled": false, "size": 16, "strokeWidth": 2, "opacity": 1},
"axis": {"domain": false, "grid": false, "tickColor": "#444", "tickSize": 8, "tickWidth": 1.3, "labelFontSize": 11.5, "labelColor": "#222", "titleFontSize": 12, "titleFontWeight": "normal", "titleColor": "#222", "labelFont": "Liberation Sans", "titleFont": "Liberation Sans"},
"axisX": {"labelPadding": 7, "titlePadding": 15, "labelAngle": 0},
"axisY": {"labelAngle": -90, "labelPadding": 11, "titlePadding": 17},
"title": {"fontSize": 15.5, "fontWeight": "bold", "offset": 21, "frame": "group", "color": "#000", "font": "Liberation Sans"},
"legend": {"labelFont": "Liberation Sans"}
}
}
